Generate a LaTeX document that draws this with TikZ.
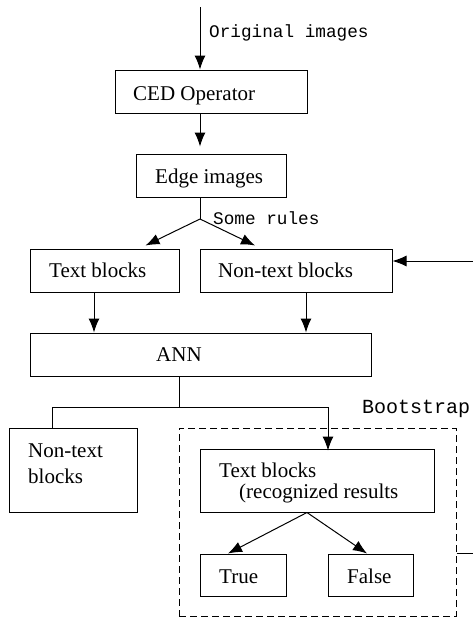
\documentclass[tikz,border=0pt]{standalone}
\usepackage{fontspec}
\setmainfont{Liberation Serif}
\setmonofont{Liberation Mono}
\usetikzlibrary{arrows.meta}
\tikzset{
  box/.style={draw, line width=1pt, inner sep=0pt, rectangle},
  dbox/.style={draw, line width=1pt, inner sep=0pt, rectangle, dash pattern=on 7pt off 4pt},
  txt/.style={inner sep=0pt, font=\fontsize{21pt}{22pt}\selectfont, anchor=base west},
  lbl/.style={inner sep=0pt, font=\ttfamily\fontsize{17.7pt}{20pt}\selectfont, anchor=base west},
  arr/.style={line width=1pt, -{Latex[length=14pt,width=11pt]}},
  ln/.style={line width=1pt}
}
\begin{document}
\begin{tikzpicture}[x=1pt,y=-1pt]
\useasboundingbox (0,0) rectangle (473,619);
% boxes
\node[box, minimum width=192pt, minimum height=43pt] (ced) at (211,91.5) {};
\node[box, minimum width=150pt, minimum height=43pt] (edge) at (211,175.5) {};
\node[box, minimum width=149pt, minimum height=43pt] (tb) at (104.5,270.5) {};
\node[box, minimum width=192pt, minimum height=43pt] (nt) at (296,270.5) {};
\node[box, minimum width=341pt, minimum height=43pt] (ann) at (200.5,354.5) {};
\node[box, minimum width=128pt, minimum height=84pt] (ntl) at (73,470) {};
\node[dbox, minimum width=277pt, minimum height=188pt] (boot) at (317.5,522) {};
\node[box, minimum width=234pt, minimum height=63pt] (tbr) at (317,480.5) {};
\node[box, minimum width=86pt, minimum height=42pt] (tru) at (243,575) {};
\node[box, minimum width=85pt, minimum height=42pt] (fal) at (370.5,575) {};
% texts
\node[txt] (cedt) at (133,100) {CED Operator};
\node[txt] (edget) at (155,183) {Edge images};
\node[txt] (tbt) at (49,277) {Text blocks};
\node[txt] (ntt) at (218,277) {Non-text blocks};
\node[txt] (annt) at (156,361) {ANN};
\node[txt] (ntl1) at (28,457) {Non-text};
\node[txt] (ntl2) at (28,483) {blocks};
\node[txt] (tbr1) at (219,477) {Text blocks};
\node[txt] (tbr2) at (239,498) {(recognized results};
\node[txt] (trut) at (219,583) {True};
\node[txt] (falt) at (347,583) {False};
% labels
\node[lbl] (l1) at (209,37) {Original images};
\node[lbl] (l2) at (213,224) {Some rules};
\node[lbl, font=\ttfamily\fontsize{20pt}{22pt}\selectfont] (l3) at (362,413) {Bootstrap};
% coordinates
\coordinate (top) at (200,7);
\coordinate (split) at (200,219);
\coordinate (annj) at (179,407);
\coordinate (fb1) at (474.5,553);
\coordinate (fb2) at (474.5,261);
% connectors
\draw[arr] (top) -- ([xshift=-11pt]ced.north);
\draw[arr, shorten >=7pt] ([xshift=-11pt]ced.south) -- ([xshift=-11pt]edge.north);
\draw[ln] ([xshift=-11pt]edge.south) -- (split);
\draw[arr] (split) -- ([xshift=41pt,yshift=3pt]tb.north);
\draw[arr] (split) -- ([xshift=-41pt,yshift=3pt]nt.north);
\draw[arr] ([xshift=-10.5pt]tb.south) -- ([xshift=-10.5pt]ann.north -| tb.south);
\draw[arr] ([xshift=10pt]nt.south) -- ([xshift=10pt]ann.north -| nt.south);
\draw[ln] ([xshift=-21.5pt]ann.south) -- (annj);
\draw[ln] (annj) -| ([xshift=-21pt]ntl.north);
\draw[arr] (annj) -| ([xshift=11pt,yshift=-2pt]tbr.north);
\draw[arr] ([xshift=-10pt]tbr.south) -- ([xshift=-15pt]tru.north);
\draw[arr] ([xshift=-10pt]tbr.south) -- ([xshift=-3.5pt]fal.north);
\draw[ln] (boot.east |- fb1) -- (fb1) -- (fb2);
\draw[arr] (fb2) -- (nt.east |- fb2);
\end{tikzpicture}
\end{document}
